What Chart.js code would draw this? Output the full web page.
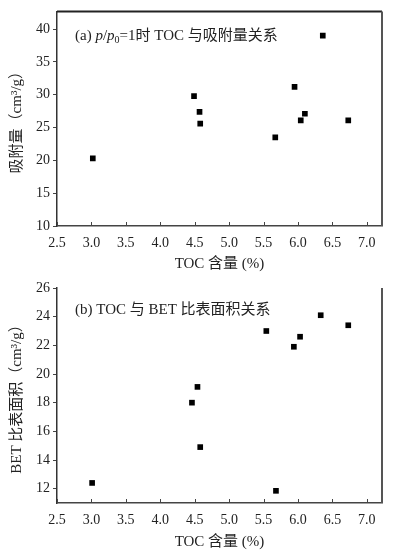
<!DOCTYPE html>
<html>
<head>
<meta charset="utf-8">
<script src="https://cdn.jsdelivr.net/npm/chart.js@4.4.1/dist/chart.umd.min.js"></script>
<style>
  body { margin: 0; background: #fff; width: 399px; height: 559px; overflow: hidden; position: relative; }
  canvas { position: absolute; left: 0; }
</style>
</head>
<body>
<canvas id="chartA" width="399" height="275" style="top:0"></canvas>
<canvas id="chartB" width="399" height="284" style="top:275px"></canvas>
<script>
// (a) TOC content vs adsorption at p/p0 = 1
const tocA = [3.02, 4.49, 4.57, 4.58, 5.67, 5.95, 6.04, 6.10, 6.36, 6.73];
const adsorption = [20.3, 29.8, 27.4, 25.6, 23.5, 31.2, 26.1, 27.1, 39.0, 26.1];

// (b) TOC content vs BET specific surface area
const tocB = [3.01, 4.46, 4.54, 4.58, 5.54, 5.68, 5.94, 6.03, 6.33, 6.73];
const betArea = [12.4, 18.0, 19.1, 14.9, 23.0, 11.85, 21.9, 22.6, 24.1, 23.4];

// tick labels
const xTicks = [2.5, 3.0, 3.5, 4.0, 4.5, 5.0, 5.5, 6.0, 6.5, 7.0];
const yTicksA = [10, 15, 20, 25, 30, 35, 40];
const yTicksB = [12, 14, 16, 18, 20, 22, 24, 26];

const SERIF = '"Liberation Serif", "Noto Sans CJK SC", serif';
const tickFont = { family: SERIF, size: 14 };
const titleFont = { family: SERIF, size: 15 };

// titles inside the plot, split into runs so p/p0 can be italic + subscript
const titleRunsA = [
  { t: '(a) ' }, { t: 'p', i: true }, { t: '/' }, { t: 'p', i: true },
  { t: '0', sub: true }, { t: '=1时 TOC 与吸附量关系' }
];
const titleRunsB = [{ t: '(b) TOC 与 BET 比表面积关系' }];

// draws the in-plot caption, the inward x ticks and the extra frame edges
const decorPlugin = {
  id: 'decor',
  afterDraw(chart, args, opts) {
    const { ctx, chartArea: a } = chart;
    ctx.save();

    // inward tick marks on the x axis
    const xs = chart.scales.x;
    ctx.strokeStyle = '#444';
    ctx.lineWidth = 1;
    xTicks.forEach(v => {
      const px = Math.round(xs.getPixelForValue(v)) + 0.5;
      ctx.beginPath();
      ctx.moveTo(px, a.bottom);
      ctx.lineTo(px, a.bottom - 4);
      ctx.stroke();
    });

    // top / right edges of the frame
    if (opts.top) {
      ctx.strokeStyle = '#222';
      ctx.lineWidth = 2;
      ctx.beginPath();
      ctx.moveTo(a.left, a.top);
      ctx.lineTo(a.right, a.top);
      ctx.stroke();
    }
    ctx.strokeStyle = '#555';
    ctx.lineWidth = 2;
    ctx.beginPath();
    ctx.moveTo(a.right, a.top);
    ctx.lineTo(a.right, a.bottom);
    ctx.stroke();

    // caption
    let x = a.left + opts.dx;
    const y = a.top + opts.dy;
    ctx.fillStyle = '#222';
    ctx.textBaseline = 'alphabetic';
    opts.runs.forEach(r => {
      const size = r.sub ? 10 : 15;
      ctx.font = (r.i ? 'italic ' : '') + size + 'px ' + SERIF;
      ctx.fillText(r.t, x, r.sub ? y + 3 : y);
      x += ctx.measureText(r.t).width;
    });
    ctx.restore();
  }
};

function makeChart(id, xs, ys, cfg) {
  return new Chart(document.getElementById(id), {
    type: 'scatter',
    data: {
      datasets: [{
        data: xs.map((v, i) => ({ x: v, y: ys[i] })),
        pointStyle: 'rect',
        pointRadius: 4,
        pointHoverRadius: 4,
        backgroundColor: '#000',
        borderWidth: 0
      }]
    },
    options: {
      responsive: false,
      animation: false,
      events: [],
      layout: { padding: { top: cfg.padTop, right: 17, bottom: cfg.padBottom, left: 0 } },
      plugins: {
        legend: { display: false },
        tooltip: { enabled: false },
        decor: { top: cfg.frameTop, runs: cfg.runs, dx: 18, dy: cfg.captionY }
      },
      scales: {
        x: {
          type: 'linear',
          min: 2.5,
          max: 7.22,
          afterBuildTicks: s => { s.ticks = xTicks.map(v => ({ value: v })); },
          afterFit: s => { s.height = cfg.xHeight; },
          grid: { drawOnChartArea: false, drawTicks: false },
          border: { color: '#444', width: 1.5 },
          ticks: { color: '#222', font: tickFont, padding: 9, callback: v => v.toFixed(1) },
          title: { display: true, text: 'TOC 含量 (%)', color: '#222', font: titleFont, padding: { top: 0, bottom: 2 } }
        },
        y: {
          min: cfg.yMin,
          max: cfg.yMax,
          afterBuildTicks: s => { s.ticks = cfg.yTicks.map(v => ({ value: v })); },
          afterFit: s => { s.width = 57; },
          grid: { drawOnChartArea: false, drawTicks: true, tickLength: 4, color: '#444' },
          border: { color: '#333', width: 1.5 },
          ticks: { color: '#222', font: tickFont, padding: 3 },
          title: { display: true, text: cfg.yTitle, color: '#222', font: titleFont, padding: { top: 8, bottom: 0 } }
        }
      }
    },
    plugins: [decorPlugin]
  });
}

makeChart('chartA', tocA, adsorption, {
  padTop: 9, padBottom: 0, xHeight: 49,
  yMin: 10, yMax: 42.7, yTicks: yTicksA,
  yTitle: '吸附量（cm³/g）',
  frameTop: true, runs: titleRunsA, captionY: 29
});

makeChart('chartB', tocB, betArea, {
  padTop: 13, padBottom: 6, xHeight: 50,
  yMin: 11, yMax: 26, yTicks: yTicksB,
  yTitle: 'BET 比表面积（cm³/g）',
  frameTop: false, runs: titleRunsB, captionY: 26
});
</script>
</body>
</html>
